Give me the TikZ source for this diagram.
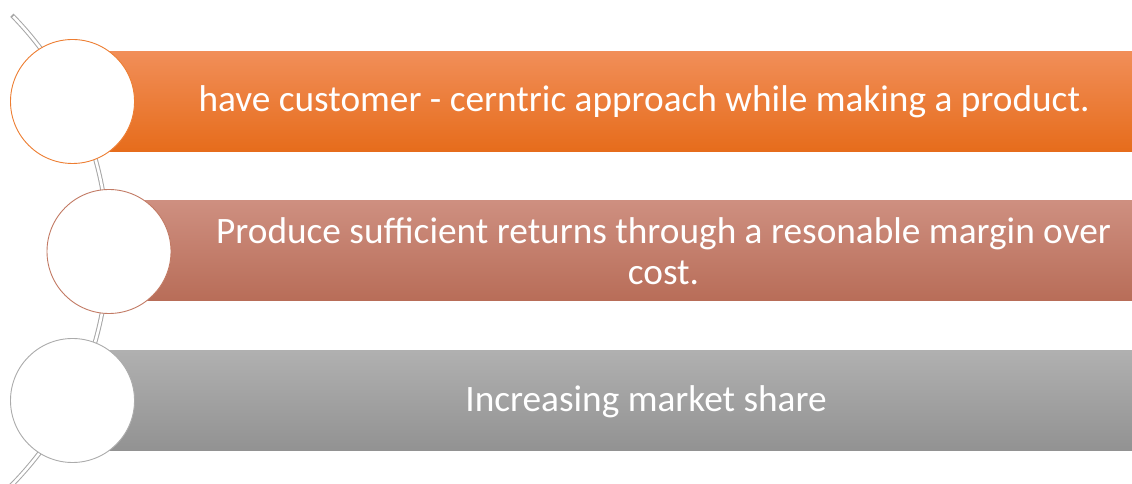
\documentclass[tikz,border=0pt]{standalone}
\usepackage{fontspec}
\setmainfont{Carlito}
\begin{document}
\begin{tikzpicture}[x=1pt,y=1pt,
  bar/.style={rectangle, draw=none, minimum height=100pt, inner sep=0pt, anchor=west},
  bartext/.style={text=white, align=center, inner sep=0pt, font=\fontsize{37.3}{41}\selectfont},
  disc/.style={circle, fill=white, minimum size=124pt, inner sep=0pt, line width=0.9pt},
]
\definecolor{orTop}{HTML}{F18E58}
\definecolor{orMid}{HTML}{F07A2A}
\definecolor{orBot}{HTML}{E66C1B}
\definecolor{orLine}{HTML}{ED7D31}
\definecolor{roTop}{HTML}{CE8F80}
\definecolor{roMid}{HTML}{C57A66}
\definecolor{roBot}{HTML}{B86D58}
\definecolor{roLine}{HTML}{C27A64}
\definecolor{grTop}{HTML}{B0B0B0}
\definecolor{grMid}{HTML}{A3A3A3}
\definecolor{grBot}{HTML}{929292}
\definecolor{grLine}{HTML}{ABABAB}
\definecolor{track}{HTML}{A6A6A6}

\useasboundingbox (0,0) rectangle (1132,484);

% curved track behind the circles
\coordinate (trackc) at (-227,234);
\draw[track, line width=4.6pt] (trackc) ++(44.5:335pt) arc[start angle=44.5, end angle=-46, radius=335pt];
\draw[white, line width=2.6pt] (trackc) ++(44.2:335pt) arc[start angle=44.2, end angle=-46, radius=335pt];

% bars
\node[bar, minimum width=1060pt, top color=orTop, middle color=orMid, bottom color=orBot] (b1) at (72,382) {};
\node[bar, minimum width=1023pt, top color=roTop, middle color=roMid, bottom color=roBot] (b2) at (109,233) {};
\node[bar, minimum width=1060pt, top color=grTop, middle color=grMid, bottom color=grBot] (b3) at (72,83) {};

% labels
\node[bartext, anchor=base] (t1) at (644,372) {have customer - cerntric approach while making a product.};
\node[bartext] (t2) at (663.5,233) {Produce sufficient returns through a resonable margin over\\cost.};
\node[bartext, anchor=base] (t3) at (646,72) {Increasing market share};

% circles
\node[disc, draw=orLine] (c1) at (72.5,382.5) {};
\node[disc, draw=roLine] (c2) at (109,232.5) {};
\node[disc, draw=grLine] (c3) at (72.5,83.5) {};
\end{tikzpicture}
\end{document}
